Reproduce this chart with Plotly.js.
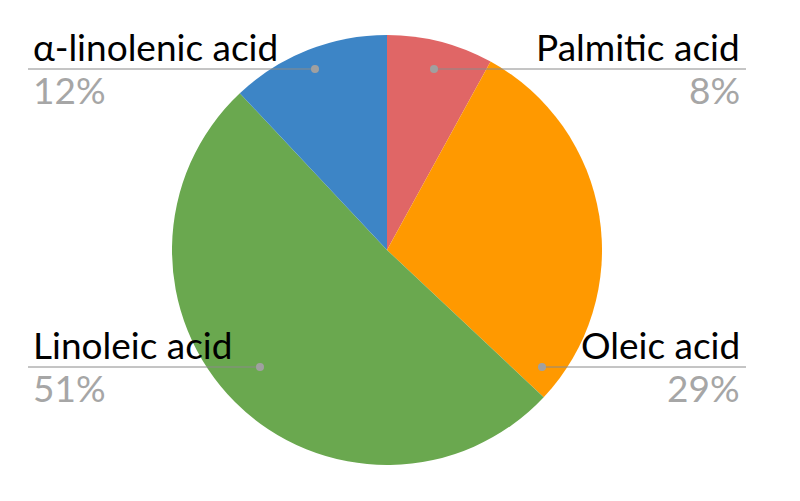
<!DOCTYPE html>
<html><head><meta charset="utf-8">
<script src="https://cdn.plot.ly/plotly-3.0.1.min.js"></script>
<style>html,body{margin:0;padding:0;background:#fff}#chart{width:800px;height:501px}</style>
</head><body><div id="chart"></div>
<script>
const labels = ["Palmitic acid", "Oleic acid", "Linoleic acid", "α-linolenic acid"];
const values = [8, 29, 51, 12];
const colors = ["#E06666", "#FF9900", "#6AA84F", "#3D85C6"];
// label callout layout (pixel positions of leader lines)
const callouts = [
  {x0: 746, dot: 434, y: 69, side: "right"},
  {x0: 746, dot: 542, y: 367, side: "right"},
  {x0: 28, dot: 260, y: 367, side: "left"},
  {x0: 28, dot: 315, y: 69, side: "left"}
];
const W = 800, H = 501;
const px = x => x / W, py = y => 1 - y / H;
const FONT = "Lato, sans-serif";

const shapes = [], annotations = [];
labels.forEach((lab, i) => {
  const c = callouts[i];
  shapes.push({type: "line", xref: "paper", yref: "paper", x0: px(c.x0), x1: px(c.dot), y0: py(c.y), y1: py(c.y),
    line: {color: "#8a8a8a", width: 1}});
  shapes.push({type: "circle", xref: "paper", yref: "paper", x0: px(c.dot - 4), x1: px(c.dot + 4), y0: py(c.y - 4), y1: py(c.y + 4),
    fillcolor: "#a0a0a0", line: {width: 0}});
  const ax = c.side === "left" ? px(c.x0 + 3) : px(c.x0 - 4);
  annotations.push({xref: "paper", yref: "paper", x: ax, y: py(c.y + 2), xanchor: c.side, yanchor: "bottom",
    text: lab, showarrow: false, font: {family: FONT, size: 37, color: "#000"}});
  annotations.push({xref: "paper", yref: "paper", x: ax, y: py(c.y - 4), xanchor: c.side, yanchor: "top",
    text: values[i] + "%", showarrow: false, font: {family: FONT, size: 37, color: "#a6a6a6"}});
});

const data = [{
  type: "pie", labels: labels, values: values, sort: false, direction: "clockwise", rotation: 0,
  marker: {colors: colors, line: {width: 0}}, textinfo: "none", hoverinfo: "label+percent",
  domain: {x: [172 / W, 602 / W], y: [36 / H, 466 / H]}
}];
const layout = {width: W, height: H, margin: {l: 0, r: 0, t: 0, b: 0}, showlegend: false,
  paper_bgcolor: "#fff", shapes: shapes, annotations: annotations};
Plotly.newPlot("chart", data, layout, {displayModeBar: false, staticPlot: true});
</script></body></html>
